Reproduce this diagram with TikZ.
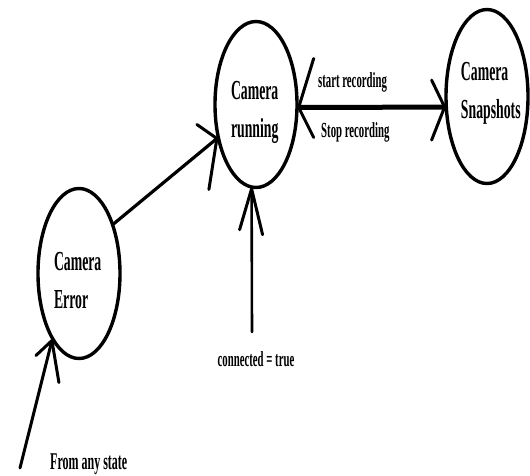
\documentclass[tikz,border=0pt]{standalone}
\usepackage{fontspec}
\usetikzlibrary{shapes.geometric,calc}
\newfontfamily\condfont[FakeStretch=0.5]{Liberation Serif}
\newcommand\barbpair[6]{\draw[barb,#6] ($(#1)+(#2,#3)$) -- (#1) -- ($(#1)+(#4,#5)$);}
\begin{document}
\begin{tikzpicture}[x=1pt,y=-1pt,
  state/.style={draw, ellipse, line width=3.4pt, inner sep=0pt},
  stxt/.style={align=left, inner sep=0pt, font=\condfont\bfseries\fontsize{27.5}{37.5}\selectfont},
  elbl/.style={inner sep=0pt, font=\condfont\bfseries\fontsize{21.5}{26}\selectfont},
  conn/.style={line width=3.2pt, line cap=round},
  barb/.style={line width=3pt, line cap=round, line join=round}]
\useasboundingbox (0,0) rectangle (530,475);
% states
\node[state, minimum width=82pt, minimum height=166pt] (run) at (256,104.5) {};
\node[state, minimum width=82pt, minimum height=174pt] (snap) at (487,96.5) {};
\node[state, minimum width=82pt, minimum height=170pt] (err) at (79,273.5) {};
\node[stxt] (runtxt) at (254.7,112.4) {Camera\\running};
\node[stxt] (snaptxt) at (490.8,93.4) {Camera\\Snapshots};
\node[stxt] (errtxt) at (77.7,280.7) {Camera\\Error};
% Error -> running
\draw[conn] (err.55.8) -- (run.221.3);
\barbpair{run.221.3}{-20}{-14}{-8}{51}{}
% running <-> snapshots
\draw[conn, line width=5pt] (run.-4.2) -- (snap.194.4);
\barbpair{run.-4.2}{15}{-49}{15}{30}{}
\barbpair{snap.194.4}{-13}{-27}{-13}{33}{}
\node[elbl, anchor=base west] (startlbl) at (318,87) {start recording};
\node[elbl, anchor=base west] (stoplbl) at (321,137.5) {Stop recording};
% connected = true
\coordinate (cfree) at (252,332);
\draw[conn, line width=2.6pt] (cfree) -- (run.267.3);
\barbpair{run.267.3}{-12}{41}{11}{46}{}
\node[elbl, anchor=base] (conlbl) at (256,366) {connected = true};
% from any state
\coordinate (afree) at (20,468);
\draw[conn, line width=3pt] (afree) -- (err.248.9);
\barbpair{err.248.9}{-16}{15}{7}{42}{}
\node[elbl, anchor=base west, font=\condfont\bfseries\fontsize{24}{28}\selectfont] (anylbl) at (50,469) {From any state};
\end{tikzpicture}
\end{document}
